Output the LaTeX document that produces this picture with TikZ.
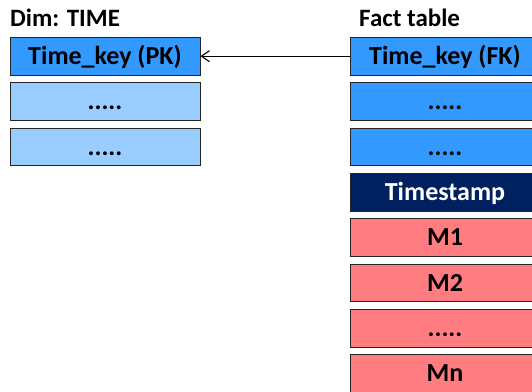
\documentclass[tikz,border=0pt]{standalone}
\usepackage{fontspec}
\setmainfont{Carlito}
\usetikzlibrary{arrows.meta}
\definecolor{keyblue}{HTML}{3399FF}
\definecolor{lightblue}{HTML}{99CCFF}
\definecolor{navy}{HTML}{002060}
\definecolor{pinkm}{HTML}{FF7C80}
\tikzset{
  field/.style={draw=black!85, line width=1pt, minimum width=190pt, minimum height=37.8pt,
    inner sep=0pt, text height=16.5pt, text depth=0pt, font=\fontsize{26}{30}\selectfont\bfseries},
  keyf/.style={field, fill=keyblue},
  lightf/.style={field, fill=lightblue},
  tsf/.style={field, fill=navy, text=white},
  measf/.style={field, fill=pinkm},
  ttl/.style={anchor=base west, inner sep=0pt, font=\fontsize{25}{29}\selectfont\bfseries},
  link/.style={line width=1.1pt, -{Straight Barb[length=8pt,width=11pt,line width=1.1pt]}}
}
\begin{document}
\begin{tikzpicture}[x=1pt,y=-1pt]
\useasboundingbox (0,0) rectangle (532,391);
\clip (0,0) rectangle (532,391);
\node[ttl] (dimt) at (10,26) {Dim: TIME};
\node[ttl] (factt) at (359,26) {Fact table};
% dimension
\node[keyf] (pk) at (105,56.2) {Time\_key (PK)};
\node[lightf] (d2) at (105,101.55) {.....};
\node[lightf] (d3) at (105,146.9) {.....};
% fact
\node[keyf] (fk) at (445,56.2) {Time\_key (FK)};
\node[keyf] (f2) at (445,101.55) {.....};
\node[keyf] (f3) at (445,146.9) {.....};
\node[tsf] (ts) at (445,192.25) {Timestamp};
\node[measf] (m1) at (445,237.6) {M1};
\node[measf] (m2) at (445,282.95) {M2};
\node[measf] (m3) at (445,328.3) {.....};
\node[measf] (mn) at (445,373.65) {Mn};
\draw[link] (fk.west) -- (pk.east);
\end{tikzpicture}
\end{document}
